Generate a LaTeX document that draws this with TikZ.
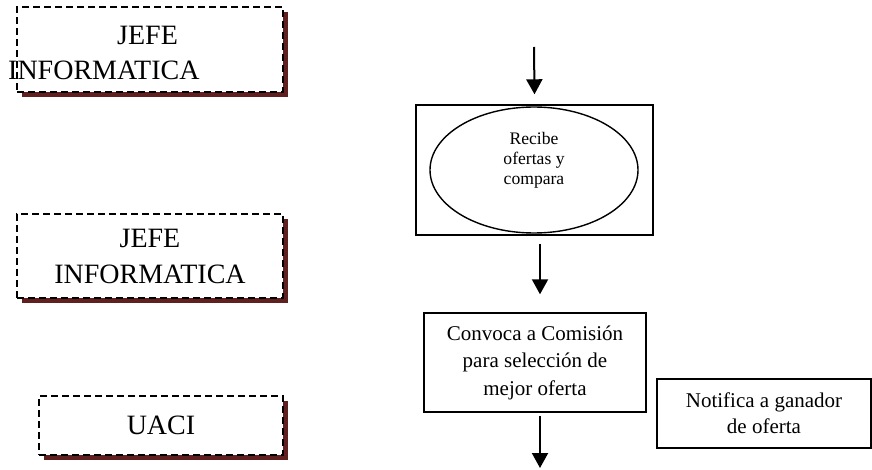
\documentclass[tikz,border=0pt]{standalone}
\usepackage{fontspec}
\setmainfont{Liberation Serif}
\usepackage{tikz}
\usetikzlibrary{calc,shapes.geometric,shadows,arrows.meta}
\definecolor{sombra}{RGB}{96,32,32}

\tikzset{
  rolbox/.style={draw,line width=1.6pt,dash pattern=on 7pt off 4pt,fill=white,
    drop shadow={shadow xshift=5pt,shadow yshift=-5pt,fill=sombra,opacity=1},
    font=\fontsize{28}{36}\selectfont,align=center},
  procbox/.style={draw,line width=1.4pt,fill=white,align=center},
  flecha/.style={line width=2pt,-{Triangle[width=16pt,length=15pt]}}
}

\begin{document}
\begin{tikzpicture}[x=1pt,y=-1pt]
\useasboundingbox (0,0) rectangle (872,470);
% roles
\node[rolbox,minimum width=266pt,minimum height=85pt] (jefeA) at (150,49.5) {};
\node[anchor=west,inner sep=0pt,align=left,font=\fontsize{28}{35}\selectfont] (jefeAtxt) at (8,53) {\hspace*{109pt}JEFE\\INFORMATICA};
\node[rolbox,minimum width=266pt,minimum height=84pt] (jefeB) at (150,256) {JEFE\\INFORMATICA};
\node[rolbox,minimum width=244pt,minimum height=59pt] (uaci) at (161,425.5) {UACI};
% procesos
\node[procbox,minimum width=237pt,minimum height=130pt] (recibe) at (534.5,170) {};
\node[draw,ellipse,line width=1.4pt,minimum width=208pt,minimum height=126pt,align=center,
  text depth=23pt,font=\fontsize{17.6}{20}\selectfont] (compara) at (534,170) {Recibe\\ofertas y\\compara};
\node[procbox,minimum width=222pt,minimum height=99pt,font=\fontsize{21}{27.5}\selectfont] (convoca) at (535,362.5)
  {Convoca a Comisión\\para selección de\\mejor oferta};
\node[procbox,minimum width=214pt,minimum height=69pt,font=\fontsize{21}{26}\selectfont] (notifica) at (764,413.5)
  {Notifica a ganador\\de oferta};
% flechas
\coordinate (inicio) at (534,47);
\coordinate (fin) at (540,468);
\draw[flecha] (inicio) -- ([shift={(0,-10)}]recibe.north);
\draw[flecha] ([shift={(5.5,8)}]recibe.south) -- ([shift={(5,-18)}]convoca.north);
\draw[flecha] ([shift={(5,3)}]convoca.south) -- (fin);
\end{tikzpicture}
\end{document}
